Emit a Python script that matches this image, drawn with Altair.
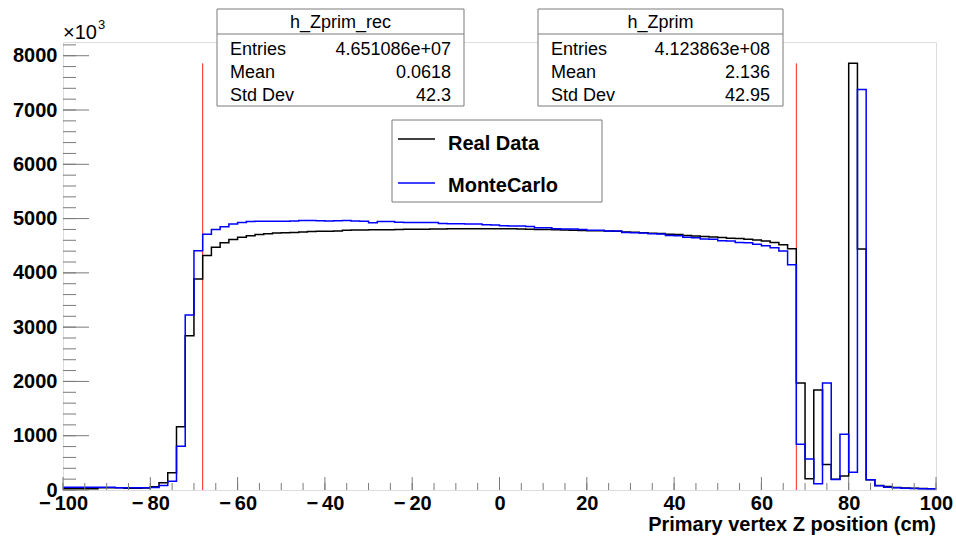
import altair as alt
import pandas as pd
import numpy as np

# ---------------- data ----------------
bin_start = -100
bin_width = 2
real_data = [22, 22, 22, 22, 40, 40, 40, 30, 30, 35, 59, 132, 316, 1167, 2840, 3888,
             4320, 4470, 4555, 4615, 4655, 4685, 4705, 4720, 4733, 4740, 4745, 4755, 4760, 4765, 4768, 4772,
             4785, 4788, 4790, 4792, 4794, 4795, 4800, 4802, 4804, 4805, 4806, 4810, 4812, 4813, 4814, 4814,
             4815, 4814,
             4812, 4812, 4810, 4805, 4800, 4797, 4795, 4790, 4785, 4782, 4778, 4774, 4770, 4765, 4755, 4746,
             4740, 4730, 4725, 4712, 4705, 4688, 4680, 4670, 4660, 4650, 4640, 4632, 4620, 4605, 4585, 4560,
             4520, 4445,
             1971, 206, 1841, 469, 200, 260, 7860, 4440, 188, 85, 65, 45, 35, 30, 28, 25]
monte_carlo = [50, 50, 50, 50, 50, 50, 40, 40, 40, 40, 45, 83, 162, 805, 3226, 4408,
               4710, 4800, 4850, 4899, 4930, 4945, 4950, 4952, 4950, 4953, 4955, 4967, 4965, 4958, 4955, 4962,
               4965, 4955, 4950, 4925, 4948, 4945, 4932, 4930, 4930, 4928, 4926, 4908, 4905, 4903, 4902, 4900,
               4885, 4880,
               4870, 4862, 4862, 4855, 4831, 4831, 4815, 4807, 4807, 4800, 4783, 4783, 4770, 4770, 4745, 4740,
               4735, 4720, 4714, 4690, 4684, 4655, 4648, 4625, 4620, 4590, 4586, 4560, 4556, 4526, 4500, 4463,
               4403, 4150,
               845, 573, 117, 1973, 193, 1027, 327, 7380, 190, 80, 52, 40, 32, 28, 25, 22]
series_names = ["Real Data", "MonteCarlo"]
series_colors = ["#000000", "#0000ff"]

cut_positions = [-68, 68]
cut_height = 7860

stat_labels = ["Entries", "Mean", "Std Dev"]
rec_title = "h_Zprim_rec"
rec_values = ["4.651086e+07", "0.0618", "42.3"]
mc_title = "h_Zprim"
mc_values = ["4.123863e+08", "2.136", "42.95"]

x_tick_labels = [-100, -80, -60, -40, -20, 0, 20, 40, 60, 80, 100]
y_tick_labels = [0, 1000, 2000, 3000, 4000, 5000, 6000, 7000, 8000]
x_title = "Primary vertex Z position (cm)"
exp_text = "\u00d710"
exp_sup = "3"

# ---------------- layout ----------------
W, H = 873, 448
FONT = "Liberation Sans"
FRAME = "#7a7a7a"
x_max = 100
y_max = 8253

xs = alt.Scale(domain=[bin_start, x_max], nice=False, zero=False)
ys = alt.Scale(domain=[0, y_max], nice=False, zero=False)

xaxis = alt.Axis(values=x_tick_labels, labelFont=FONT, labelFontSize=20, labelFontWeight="bold",
                 labelColor="#000000", domain=False, ticks=False, grid=False, labelPadding=3,
                 labelOverlap=False, labelFlush=False, title=None,
                 labelExpr="datum.value < 0 ? '\u2212\u2009' + abs(datum.value) : '' + datum.value")
yaxis = alt.Axis(values=y_tick_labels, format="d", labelFont=FONT, labelFontSize=20,
                 labelFontWeight="bold", labelColor="#000000", domain=False, ticks=False, grid=False,
                 labelPadding=6, labelOverlap=False, labelFlush=False, title=None)

rows = []
for name, vals in zip(series_names, [real_data, monte_carlo]):
    edges = [bin_start + i * bin_width for i in range(len(vals))]
    for e, v in zip(edges, vals):
        rows.append({"edge": e, "value": v, "series": name})
    rows.append({"edge": edges[-1] + bin_width, "value": vals[-1], "series": name})
hist_df = pd.DataFrame(rows)

layers = []

# red cut lines
cut_df = pd.DataFrame({"x": cut_positions, "bottom": [0, 0], "top": [cut_height, cut_height]})
layers.append(alt.Chart(cut_df).mark_rule(color="#ff2020", strokeWidth=1).encode(
    x=alt.X("x:Q", scale=xs, axis=xaxis),
    y=alt.Y("bottom:Q", scale=ys, axis=yaxis),
    y2="top:Q"))

# histograms
for name, col in zip(series_names, series_colors):
    sub = hist_df[hist_df.series == name]
    layers.append(alt.Chart(sub).mark_line(interpolate="step-after", color=col, strokeWidth=1.5,
                                           clip=True).encode(
        x=alt.X("edge:Q", scale=xs, axis=xaxis),
        y=alt.Y("value:Q", scale=ys, axis=yaxis)))

# ticks (drawn inward like ROOT)
x_major = pd.DataFrame({"v": x_tick_labels})
x_minor = pd.DataFrame({"v": list(np.arange(bin_start, x_max + 1, 5))})
y_major = pd.DataFrame({"v": y_tick_labels})
y_minor = pd.DataFrame({"v": list(np.arange(0, y_max, 200))})
layers.append(alt.Chart(x_major).mark_rule(color=FRAME).encode(
    x=alt.X("v:Q", scale=xs, axis=xaxis), y=alt.value(H), y2=alt.value(H - 13)))
layers.append(alt.Chart(x_minor).mark_rule(color=FRAME).encode(
    x=alt.X("v:Q", scale=xs, axis=xaxis), y=alt.value(H), y2=alt.value(H - 7)))
layers.append(alt.Chart(y_major).mark_rule(color=FRAME).encode(
    y=alt.Y("v:Q", scale=ys, axis=yaxis), x=alt.value(0), x2=alt.value(26)))
layers.append(alt.Chart(y_minor).mark_rule(color=FRAME).encode(
    y=alt.Y("v:Q", scale=ys, axis=yaxis), x=alt.value(0), x2=alt.value(13)))


def one():
    return pd.DataFrame({"k": [0]})


def box(x1, y1, x2, y2, stroke=FRAME):
    return alt.Chart(one()).mark_rect(fill="white", stroke=stroke, strokeWidth=1).encode(
        x=alt.value(x1), x2=alt.value(x2), y=alt.value(y1), y2=alt.value(y2))


def hline(x1, x2, y, color=FRAME, width=1):
    return alt.Chart(one()).mark_rule(color=color, strokeWidth=width).encode(
        x=alt.value(x1), x2=alt.value(x2), y=alt.value(y))


def text(t, x, y, size=18, weight="normal", align="left", baseline="alphabetic"):
    return alt.Chart(one()).mark_text(text=t, font=FONT, fontSize=size, fontWeight=weight, align=align,
                                      baseline=baseline, color="#000000").encode(
        x=alt.value(x), y=alt.value(y))


# stat boxes
for (bx1, bx2, title, vals) in [(154, 401, rec_title, rec_values), (475, 720, mc_title, mc_values)]:
    layers.append(box(bx1, -33, bx2, 64))
    layers.append(hline(bx1, bx2, -8))
    layers.append(text(title, (bx1 + bx2) / 2, -14, align="center"))
    for i, (lab, val) in enumerate(zip(stat_labels, vals)):
        yy = 13 + i * 23
        layers.append(text(lab, bx1 + 13, yy))
        layers.append(text(val, bx2 - 13, yy, align="right"))

# legend
layers.append(box(329, 78, 539, 160))
for i, (name, col) in enumerate(zip(series_names, series_colors)):
    layers.append(hline(335, 372, 97 + i * 44, color=col, width=1.5))
    layers.append(text(name, 385, 108 + i * 42, size=20, weight="bold"))

# exponent and axis title
layers.append(text(exp_text, 0, -3, size=20))
layers.append(text(exp_sup, 35, -13, size=13))
layers.append(text(x_title, W, 489, size=20, weight="bold", align="right"))

chart = alt.layer(*layers).properties(
    width=W, height=H,
    padding={"left": 63, "top": 42, "right": 20, "bottom": 47},
    autosize=alt.AutoSizeParams(type="none"),
).configure_view(stroke=FRAME, strokeWidth=1).configure(font=FONT)

chart.save("out.html", embed_options={"renderer": "svg", "actions": False})
